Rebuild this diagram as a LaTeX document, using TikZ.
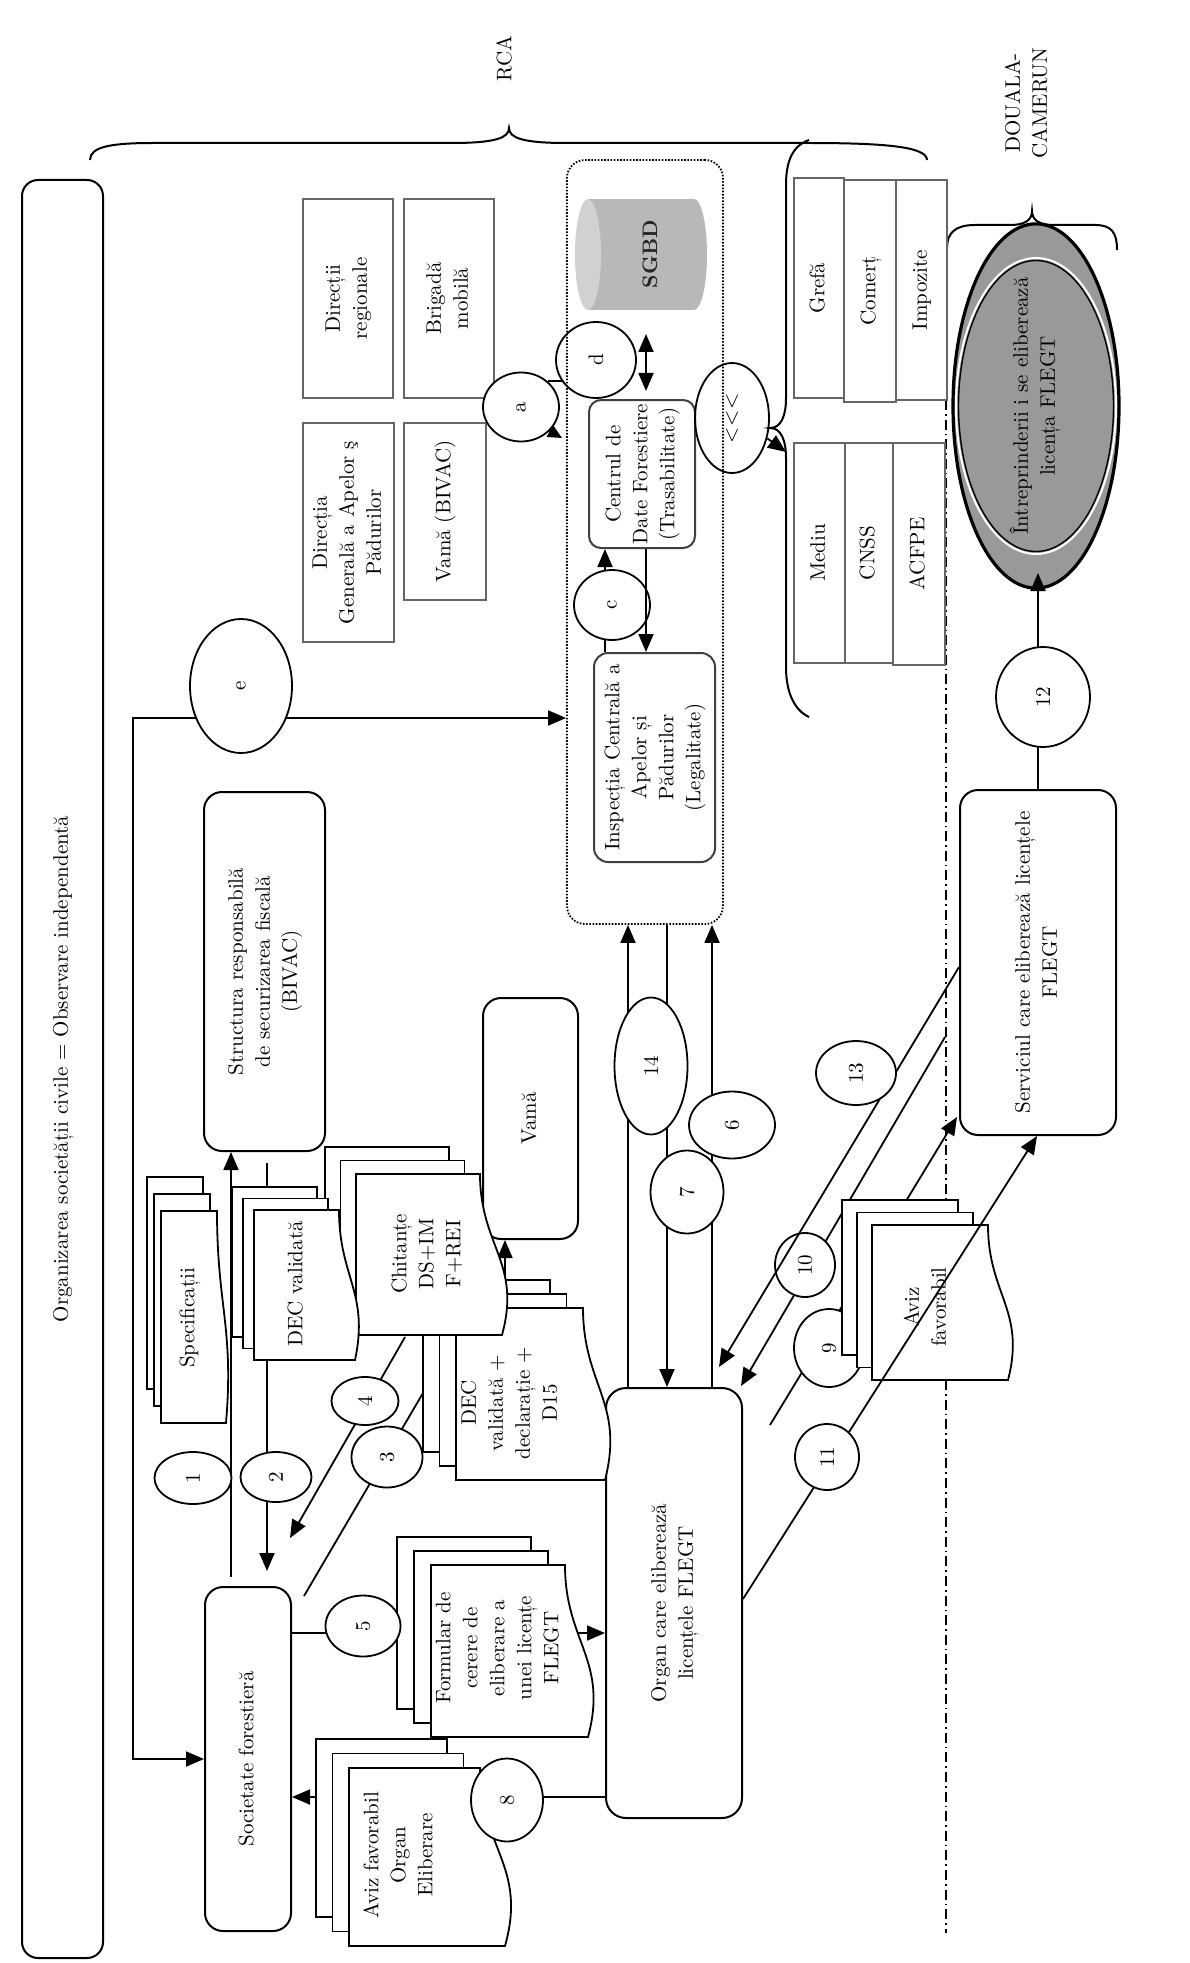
\documentclass[tikz,border=0pt]{standalone}
\usepackage{graphicx}
\usetikzlibrary{arrows.meta,shapes.geometric}
\newcommand{\fsz}{\fontsize{10.5}{13.5}\selectfont}
\newcommand{\rtx}[1]{\rotatebox{90}{\begin{tabular}{@{}c@{}}#1\end{tabular}}}
% #1 xl, #2 yt, #3 xr, #4 yb, #5 wave, #6 dx, #7 dy
\newcommand{\docstack}[7]{%
  \draw[sheet] ({#1-2*#6},{#2-2*#7}) rectangle ({#3-2*#6},{#4-2*#7});
  \draw[sheet] ({#1-#6},{#2-#7}) rectangle ({#3-#6},{#4-#7});
  \draw[sheet] (#1,#2) -- (#3,#2) .. controls (#3,{#2+0.45*(#4-#2)}) and ({#3+1.9*#5},{#2+0.55*(#4-#2)}) .. ({#3+#5},#4) -- (#1,#4) -- cycle;
}
\begin{document}
\begin{tikzpicture}[x=0.5pt,y=-0.5pt,
  ln/.style={line width=0.9pt},
  arr/.style={ln,-{Triangle[length=9pt,width=7.5pt]}},
  darr/.style={ln,{Triangle[length=9pt,width=7.5pt]}-{Triangle[length=9pt,width=7.5pt]}},
  lbl/.style={ellipse,draw,ln,fill=white,inner sep=0pt,font=\fsz},
  lbln/.style={ellipse,draw,ln,inner sep=0pt,font=\fsz},
  rbox/.style={draw,line width=1pt,rounded corners=7pt,fill=white,inner sep=0pt,font=\fsz},
  gbox/.style={draw=black!60,line width=1.4pt,fill=white,inner sep=0pt,font=\fsz},
  sheet/.style={draw,ln,fill=white},
  txt/.style={inner sep=0pt,font=\fsz},
  brace/.style={line width=1pt}
]
\useasboundingbox (0,0) rectangle (1189,1963);

% ---------- frame, labels, braces
\node[rbox,rounded corners=8pt,minimum width=40.5pt,minimum height=889pt] (org) at (62.5,1069) {\rtx{Organizarea societății civile = Observare independentă}};
\node[txt] (rca) at (506,59) {\rtx{RCA}};
\node[txt] (douala) at (1028,103) {\rtx{DOUALA-\\CAMERUN}};

\draw[brace] (90,160) .. controls (90,147) and (110,143) .. (153,143) -- (452,143) .. controls (495,143) and (509,138) .. (509,128) .. controls (509,138) and (523,143) .. (566,143) -- (807,143) .. controls (880,143) and (927,146) .. (927,160);
\draw[brace] (809,140) .. controls (792,146) and (786,162) .. (786,185) -- (786,398) .. controls (786,416) and (781,428) .. (770,428) .. controls (781,428) and (786,440) .. (786,458) -- (786,667) .. controls (786,692) and (794,710) .. (809,717);
\draw[brace] (947,248) .. controls (947,233) and (955,225) .. (975,225) -- (1010,225) .. controls (1025,225) and (1032,220) .. (1032,211) .. controls (1032,220) and (1039,225) .. (1054,225) -- (1095,225) .. controls (1112,225) and (1117,233) .. (1117,250);

\draw[line width=0.8pt,dash pattern=on 5pt off 2pt on 0.8pt off 2pt] (946,400) -- (946,1933);

% ---------- RCA administration boxes
\node[gbox,minimum width=45pt,minimum height=99.5pt] (dirreg) at (348,298.5) {\rtx{Direcții\\regionale}};
\node[gbox,minimum width=45pt,minimum height=99.5pt] (brig) at (449,298.5) {\rtx{Brigadă\\mobilă}};
\node[gbox,minimum width=45.5pt,minimum height=109.5pt] (dgap) at (348.5,532.5) {\rtx{Direcția\\Generală a Apelor ş\\Pădurilor}};
\node[gbox,minimum width=41pt,minimum height=88.5pt] (vbiv) at (445,511.5) {\rtx{Vamă (BIVAC)}};

\node[draw,line width=0.9pt,dash pattern=on 0.8pt off 0.8pt,rounded corners=9pt,minimum width=78pt,minimum height=382pt,inner sep=0pt] (cont) at (645,542) {};

\fill[black!28] (588,199) rectangle (694,310);
\fill[black!28] (694,254.5) ellipse [x radius=13, y radius=55.5];
\fill[black!18] (588,254.5) ellipse [x radius=13, y radius=55.5];
\node[txt,font=\fsz\bfseries,text=black!85] (sgbd) at (650,254) {\rotatebox{90}{SGBD}};

\node[rbox,draw=black!75,rounded corners=6pt,minimum width=53pt,minimum height=74pt] (centrul) at (642,474) {\rtx{Centrul de\\Date Forestiere\\(Trasabilitate)}};
\node[rbox,draw=black!75,rounded corners=7pt,minimum width=60.5pt,minimum height=104.5pt] (insp) at (654.5,757.5) {\rtx{Inspecția Centrală a\\Apelor și\\Pădurilor\\(Legalitate)}};

\node[gbox,minimum width=25pt,minimum height=110pt] (gref) at (819,288) {\rtx{Grefă}};
\node[gbox,minimum width=26pt,minimum height=111pt] (comert) at (870,291) {\rtx{Comerț}};
\node[gbox,minimum width=25.5pt,minimum height=110pt] (impoz) at (921.5,290) {\rtx{Impozite}};
\node[gbox,minimum width=25.5pt,minimum height=110pt] (mediu) at (819.5,553) {\rtx{Mediu}};
\node[gbox,minimum width=24pt,minimum height=110pt] (cnss) at (869,553) {\rtx{CNSS}};
\node[gbox,minimum width=26pt,minimum height=111pt] (acfpe) at (919,554) {\rtx{ACFPE}};

\node[ellipse,draw,fill=black!40,line width=1.6pt,minimum width=83pt,minimum height=151pt,inner sep=0pt,font=\fsz] (flegt) at (1036,406) {\rtx{Întreprinderii i se eliberează\\licența FLEGT}};
\draw[white,line width=1pt] (flegt.center) ellipse [x radius=80, y radius=148];
\draw[line width=0.7pt] (flegt.center) ellipse [x radius=77.5, y radius=145.5];

\node[rbox,rounded corners=9pt,minimum width=78pt,minimum height=172.5pt] (serv) at (1038,962.5) {\rtx{Serviciul care eliberează licențele\\FLEGT}};
\node[rbox,rounded corners=9pt,minimum width=60.5pt,minimum height=179.5pt] (struct) at (264.5,971.5) {\rtx{Structura responsabilă\\de securizarea fiscală\\(BIVAC)}};
\node[rbox,rounded corners=9pt,minimum width=47.5pt,minimum height=120.5pt] (vama) at (530.5,1118.5) {\rtx{Vamă}};
\node[rbox,rounded corners=9pt,minimum width=43pt,minimum height=172pt] (soc) at (248,1759) {\rtx{Societate forestieră}};
\node[rbox,rounded corners=10pt,minimum width=68pt,minimum height=215pt] (organ) at (674,1603) {\rtx{Organ care eliberează\\licențele FLEGT}};

% ---------- connectors
\coordinate (ecorner) at (133,718);
\draw[darr] (soc.west) -| (ecorner) -- (cont.west |- ecorner);
\draw[arr] (231,1577) -- (struct.south -| 231,0);
\draw[arr] (267,1163) -- (267,1571);
\draw[ln] (304,1596) -- (423,1393);
\draw[arr] (405,1337) -- (290,1538);
\draw[arr] (soc.east |- 0,1633) -- (organ.west |- 0,1633);
\draw[arr] (organ.west |- 0,1797) -- (soc.east |- 0,1797);
\draw[arr] (organ.north -| 628,0) -- (cont.south -| 628,0);
\draw[arr] (cont.south -| 667,0) -- (organ.north -| 667,0);
\draw[arr] (organ.north -| 712,0) -- (cont.south -| 712,0);
\draw[arr] (770,1425) -- (957,1117);
\draw[arr] (945,1037) -- (741,1386);
\draw[arr] (serv.north) -- (1038,573);
\draw[arr] (505,1290) -- (vama.south -| 505,0);
\draw[arr] (insp.north -| 605,0) -- (centrul.south -| 605,0);
\draw[darr] (646,334) -- (646,391);

% ---------- documents
\docstack{456}{1308}{583}{1480}{22}{16.5}{14}
\node[txt] (tdecd) at (511,1403) {\rtx{DEC\\validată +\\declarație +\\D15}};
\docstack{356}{1174}{480}{1335}{22}{15.5}{13.5}
\node[txt] (tchit) at (428,1254) {\rtx{Chitanțe\\DS+IM\\F+REI}};
\docstack{254}{1210}{339}{1360}{16}{11}{11.5}
\node[txt] (tdecv) at (297,1284) {\rtx{DEC validată}};
\docstack{161}{1211}{217}{1423}{9}{7}{17}
\node[txt] (tspec) at (189,1318) {\rtx{Specificații}};
\docstack{431}{1565}{565}{1737}{23}{17}{14}
\node[txt] (tform) at (499,1648) {\rtx{Formular de\\cerere de\\eliberare a\\unei licențe\\FLEGT}};
\docstack{349}{1768}{480}{1946}{25}{16.5}{14.5}
\node[txt] (tavizo) at (400,1855) {\rtx{Aviz favorabil\\Organ\\Eliberare}};

\node[lbl,minimum width=35pt,minimum height=39pt] (c9) at (829,1348) {\rotatebox{90}{9}};
\docstack{872}{1225}{988}{1380}{20}{15}{12.5}
\node[txt] (taviz) at (927,1307) {\rtx{Aviz\\favorabil}};
\draw[arr] (organ.east |- 0,1599) -- (serv.south -| 1037,0);
\node[lbl,minimum width=30pt,minimum height=32pt] (c10) at (805,1265) {\rotatebox{90}{10}};
\draw[arr] (serv.west |- 0,967) -- (719,1367);
\node[lbl,minimum width=32pt,minimum height=33pt] (c11) at (827,1457) {\rotatebox{90}{11}};
\node[lbl,minimum width=40pt,minimum height=32pt] (c13) at (856,1073) {\rotatebox{90}{13}};

% ---------- numbered labels
\node[lbl,minimum width=51pt,minimum height=67pt] (e) at (241,686) {\rotatebox{90}{e}};
\node[lbl,minimum width=38.5pt,minimum height=26pt] (c1) at (193,1478) {\rotatebox{90}{1}};
\node[lbl,minimum width=35.5pt,minimum height=25pt] (c2) at (276,1477) {\rotatebox{90}{2}};
\node[lbl,minimum width=35.5pt,minimum height=30.5pt] (c3) at (387,1457) {\rotatebox{90}{3}};
\node[lbl,minimum width=33.5pt,minimum height=24pt] (c4) at (365,1401) {\rotatebox{90}{4}};
\node[lbl,minimum width=37.5pt,minimum height=30.5pt] (c5) at (363,1626) {\rotatebox{90}{5}};
\node[lbl,minimum width=36pt,minimum height=41.5pt] (c8) at (507,1800) {\rotatebox{90}{8}};
\node[lbl,minimum width=36.5pt,minimum height=68.5pt] (c14) at (651,1066) {\rotatebox{90}{14}};
\node[lbl,minimum width=43pt,minimum height=33.5pt] (c6) at (732,1125) {\rotatebox{90}{6}};
\node[lbl,minimum width=36.5pt,minimum height=41.5pt] (c7) at (687,1192) {\rotatebox{90}{7}};
\node[lbl,minimum width=47pt,minimum height=50pt] (c12) at (1043,697) {\rotatebox{90}{12}};

\draw[ln] (548,381) -- (563,381);
\node[lbl,minimum width=38pt,minimum height=34.5pt] (a) at (521,407) {\rotatebox{90}{a}};
\node[lbln,minimum width=40pt,minimum height=38pt] (d) at (596,360) {\rotatebox{90}{d}};
\draw[ln,-{Triangle[length=7pt,width=6.5pt]}] (a.-40) -- (562,438);
\node[lbl,minimum width=38pt,minimum height=35pt] (c) at (612,605) {\rotatebox{90}{c}};
\draw[arr] (centrul.south -| 646,0) -- (insp.north -| 646,0);
\node[lbln,minimum width=37pt,minimum height=55pt] (lll) at (732,418) {\rotatebox{90}{\textless\kern0.3pt\textless\kern0.3pt\textless}};
\draw[arr] (lll.-30) -- (786,452);
\end{tikzpicture}
\end{document}
